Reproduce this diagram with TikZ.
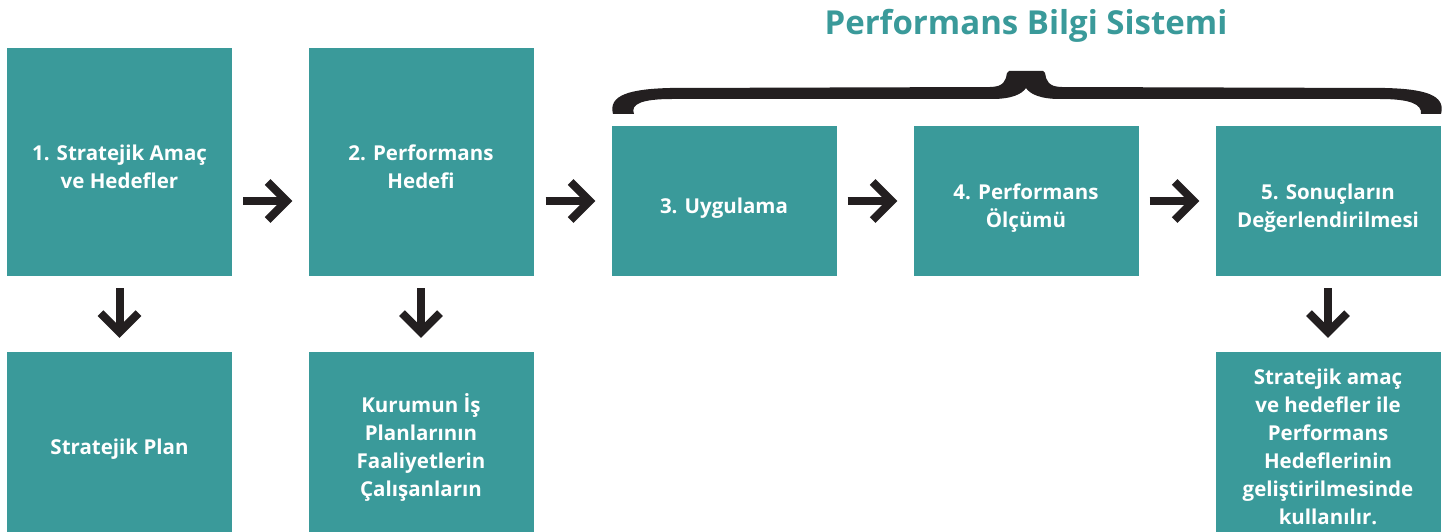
\documentclass[tikz,border=0pt]{standalone}
\usepackage{fontspec}
\setmainfont{Open Sans}
\usetikzlibrary{arrows.meta}
\definecolor{teal1}{HTML}{3A9A9A}
\definecolor{ink}{HTML}{231F20}
\newcommand{\boxtxt}[1]{\raisebox{-6.5pt}[\height][\depth]{\begin{tabular}{@{}c@{}}#1\end{tabular}}}
\tikzset{
  box/.style={fill=teal1, text=white, inner sep=0pt,
    font=\fontsize{20.5}{28}\selectfont\bfseries, minimum width=225pt},
  tallbox/.style={box, minimum height=228pt},
  midbox/.style={box, minimum height=150pt},
  lowbox/.style={box, minimum height=180pt},
  bigarrow/.style={draw=ink, line width=8pt,
    -{Straight Barb[length=19pt, width=38pt, line width=8pt]}},
}
\begin{document}
\begin{tikzpicture}[x=1pt, y=-1pt]
\useasboundingbox (0,0) rectangle (1455,532);
\node[tallbox] (b1) at (119.5,162) {\boxtxt{1. Stratejik Amaç\\ve Hedefler}};
\node[tallbox] (b2) at (421,162) {\boxtxt{2. Performans\\Hedefi}};
\node[midbox] (b3) at (724,201) {\boxtxt{3. Uygulama}};
\node[midbox] (b4) at (1026,201) {\boxtxt{4. Performans\\Ölçümü}};
\node[midbox] (b5) at (1328,201) {\boxtxt{5. Sonuçların\\Değerlendirilmesi}};
\node[lowbox] (b6) at (119.5,442) {\boxtxt{Stratejik Plan}};
\node[lowbox] (b7) at (421,442) {\boxtxt{Kurumun İş\\Planlarının\\Faaliyetlerin\\Çalışanların}};
\node[lowbox] (b8) at (1328,442) {\boxtxt{Stratejik amaç\\ve hedefler ile\\Performans\\Hedeflerinin\\geliştirilmesinde\\kullanılır.}};
\node[text=teal1, font=\fontsize{33}{40}\selectfont\bfseries] (title) at (1026,26) {Performans Bilgi Sistemi};
% right arrows
\draw[bigarrow, shorten <=11pt, shorten >=16pt] (b1.east |- b3.center) -- (b2.west |- b3.center);
\draw[bigarrow, shorten <=12pt, shorten >=16pt] (b2.east |- b3.center) -- (b3.west);
\draw[bigarrow, shorten <=11pt, shorten >=16pt] (b3.east) -- (b4.west);
\draw[bigarrow, shorten <=11pt, shorten >=16pt] (b4.east) -- (b5.west);
% down arrows
\draw[bigarrow, shorten <=12pt, shorten >=14pt] (b1.south) -- (b6.north);
\draw[bigarrow, shorten <=12pt, shorten >=14pt] (b2.south) -- (b7.north);
\draw[bigarrow, shorten <=12pt, shorten >=14pt] (b5.south) -- (b8.north);
% brace
\fill[ink] (613,114) .. controls (608,95) and (630,89) .. (670,88)
  -- (990,87) .. controls (1004,87) and (1006,80) .. (1007,73)
  -- (1009,71) -- (1043,71) -- (1045,73)
  .. controls (1046,80) and (1048,87) .. (1062,87)
  -- (1385,88) .. controls (1425,89) and (1446,95) .. (1441,114)
  -- (1421,114) .. controls (1422,104) and (1410,99) .. (1380,99)
  -- (1060,99) .. controls (1040,99) and (1030,94) .. (1026,88)
  .. controls (1022,94) and (1012,99) .. (992,99)
  -- (672,99) .. controls (642,99) and (630,104) .. (634,114) -- cycle;
\end{tikzpicture}
\end{document}
